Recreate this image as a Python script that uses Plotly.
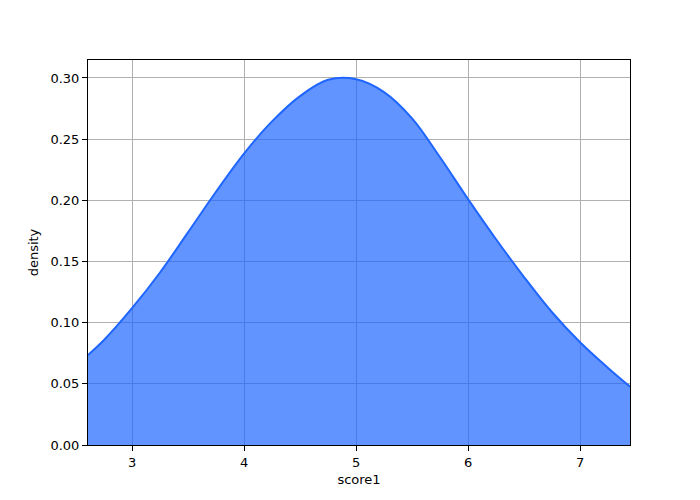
import plotly.graph_objects as go

score1 = [2.607, 2.75, 3.0, 3.25, 3.5, 3.75, 4.0, 4.25, 4.5, 4.75, 5.0,
          5.25, 5.5, 5.75, 6.0, 6.25, 6.5, 6.75, 7.0, 7.25, 7.446]
density = [0.0736, 0.0858, 0.1118, 0.1410, 0.1738, 0.2070, 0.2382, 0.2645, 0.2852,
           0.2985, 0.2990, 0.2885, 0.2670, 0.2352, 0.2010, 0.1682, 0.1373, 0.1085,
           0.0840, 0.0630, 0.0477]

x_ticks = [3, 4, 5, 6, 7]
y_ticks = [0.00, 0.05, 0.10, 0.15, 0.20, 0.25, 0.30]

fig = go.Figure()
fig.add_trace(go.Scatter(
    x=score1, y=density, mode="lines",
    line=dict(color="rgb(31,102,255)", width=2, shape="spline", smoothing=1.0),
    fill="tozeroy", fillcolor="rgba(31,102,255,0.7)",
    showlegend=False, hoverinfo="skip",
))

font = dict(family="DejaVu Sans", size=13, color="black")
axis_common = dict(
    showgrid=True, gridcolor="#b0b0b0", gridwidth=1,
    showline=True, linecolor="black", linewidth=1, mirror=True,
    ticks="outside", ticklen=5, tickwidth=1, tickcolor="black",
    zeroline=False, tickfont=font,
)
fig.update_xaxes(range=[2.607, 7.446], tickvals=x_ticks,
                 ticktext=[str(t) for t in x_ticks],
                 title=dict(text="score1", font=font, standoff=6), **axis_common)
fig.update_yaxes(range=[0, 0.3147], tickvals=y_ticks,
                 ticktext=[f"{t:.2f}" for t in y_ticks],
                 title=dict(text="density", font=font, standoff=8), **axis_common)
fig.update_layout(
    width=700, height=500,
    margin=dict(l=80, r=78, t=52, b=63),
    paper_bgcolor="white", plot_bgcolor="white",
    font=font,
)
fig.write_html("out.html")
